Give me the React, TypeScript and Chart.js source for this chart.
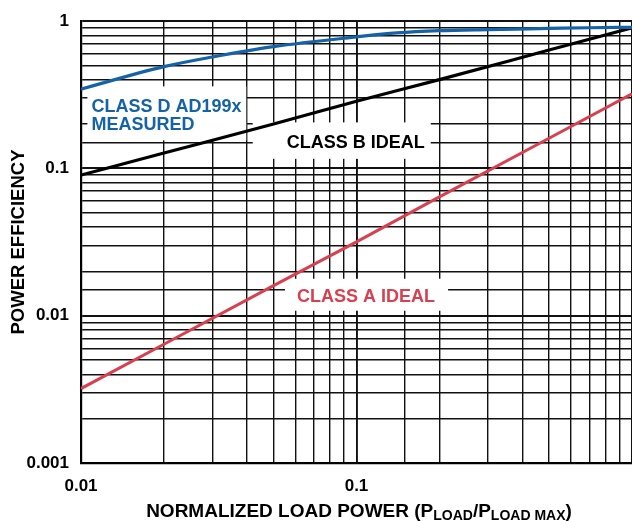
import React, { useEffect, useRef } from "react";
import { Chart, registerables } from "chart.js";

Chart.register(...registerables);

const classDX = [0.01, 0.02, 0.03, 0.05, 0.1, 0.14, 0.2, 0.3, 0.5, 0.7, 1];
const classDY = [0.345, 0.49, 0.57, 0.67, 0.78, 0.83, 0.86, 0.875, 0.89, 0.9, 0.906];
const classBX = [0.01, 0.02, 0.05, 0.1, 0.2, 0.5, 1];
const classBY = [0.09, 0.127, 0.2, 0.285, 0.4, 0.635, 0.9];
const classAX = [0.01, 0.02, 0.05, 0.1, 0.2, 0.5, 1];
const classAY = [0.0032, 0.0064, 0.016, 0.0317, 0.064, 0.16, 0.32];

const xTickLabels: Record<string, string> = { "-2": "0.01", "-1": "0.1" };
const yTickLabels: Record<string, string> = { "-3": "0.001", "-2": "0.01", "-1": "0.1", "0": "1" };

const seriesNames = ["CLASS D AD199x", "CLASS B IDEAL", "CLASS A IDEAL"];
const BLUE = "#1462a8";
const RED = "#d8404f";
const FONT = "'Liberation Sans', Arial, Helvetica, sans-serif";

const isDecade = (v: number) => {
  const l = Math.log10(v);
  return Math.abs(l - Math.round(l)) < 1e-6;
};

const labelPlugin = {
  id: "labelBoxes",
  beforeDatasetsDraw(chart: any) {
    const ctx = chart.ctx;
    const xs = chart.scales.x;
    const ys = chart.scales.y;
    ctx.save();
    const box = (x0: number, x1: number, y0: number, y1: number) => {
      const px0 = xs.getPixelForValue(x0);
      const px1 = xs.getPixelForValue(x1);
      const py0 = ys.getPixelForValue(y0);
      const py1 = ys.getPixelForValue(y1);
      ctx.fillStyle = "#ffffff";
      ctx.fillRect(px0, py0, px1 - px0, py1 - py0);
      return { px0, py0 };
    };
    ctx.font = `bold 18px ${FONT}`;
    ctx.textBaseline = "alphabetic";
    ctx.textAlign = "left";
    // class D
    const d = box(0.01055, 0.0398, 0.36, 0.155);
    ctx.fillStyle = BLUE;
    ctx.fillText(seriesNames[0], d.px0 + 4, d.py0 + 26);
    ctx.fillText("MEASURED", d.px0 + 4, d.py0 + 44);
    // class B
    const b = box(0.042, 0.186, 0.205, 0.116);
    ctx.fillStyle = "#000000";
    ctx.fillText(seriesNames[1], b.px0 + 34, b.py0 + 26);
    // class A
    const a = box(0.055, 0.215, 0.0178, 0.0108);
    ctx.fillStyle = RED;
    ctx.fillText(seriesNames[2], a.px0 + 12, a.py0 + 23);
    ctx.restore();
  },
  afterDraw(chart: any) {
    const ctx = chart.ctx;
    const area = chart.chartArea;
    ctx.save();
    ctx.fillStyle = "#000";
    // y title
    ctx.save();
    ctx.font = `bold 18.5px ${FONT}`;
    ctx.translate(24, (area.top + area.bottom) / 2);
    ctx.rotate(-Math.PI / 2);
    ctx.textAlign = "center";
    ctx.textBaseline = "alphabetic";
    ctx.fillText("POWER EFFICIENCY", 0, 0);
    ctx.restore();
    // x title with subscripts
    const parts: [string, boolean][] = [
      ["NORMALIZED LOAD POWER (P", false],
      ["LOAD", true],
      ["/P", false],
      ["LOAD MAX", true],
      [")", false],
    ];
    const mainFont = `bold 19px ${FONT}`;
    const subFont = `bold 14px ${FONT}`;
    let total = 0;
    for (const [t, s] of parts) {
      ctx.font = s ? subFont : mainFont;
      total += ctx.measureText(t).width;
    }
    let x = 359 - total / 2;
    const base = 517;
    ctx.textAlign = "left";
    for (const [t, s] of parts) {
      ctx.font = s ? subFont : mainFont;
      ctx.fillText(t, x, s ? base + 3 : base);
      x += ctx.measureText(t).width;
    }
    ctx.restore();
  },
};

export default function App() {
  const ref = useRef<HTMLCanvasElement>(null);
  useEffect(() => {
    if (!ref.current) return;
    const gridWidth = (c: any) => {
      const v = c.tick ? c.tick.value : 0;
      return v && isDecade(v) ? 1.9 : 1.4;
    };
    const chart = new Chart(ref.current, {
      type: "line",
      data: {
        datasets: [
          {
            label: seriesNames[0],
            data: classDX.map((x, i) => ({ x, y: classDY[i] })),
            borderColor: BLUE,
            borderWidth: 3.2,
            pointRadius: 0,
            cubicInterpolationMode: "monotone",
          },
          {
            label: seriesNames[1],
            data: classBX.map((x, i) => ({ x, y: classBY[i] })),
            borderColor: "#000000",
            borderWidth: 3.2,
            pointRadius: 0,
            cubicInterpolationMode: "monotone",
          },
          {
            label: seriesNames[2],
            data: classAX.map((x, i) => ({ x, y: classAY[i] })),
            borderColor: RED,
            borderWidth: 3,
            pointRadius: 0,
          },
        ],
      },
      options: {
        responsive: false,
        animation: false,
        devicePixelRatio: 1,
        layout: { padding: { top: 21, right: 0, left: 0, bottom: 0 } },
        plugins: { legend: { display: false }, tooltip: { enabled: false } },
        scales: {
          x: {
            type: "logarithmic",
            min: 0.01,
            max: 1,
            afterFit: (s: any) => {
              s.height = 58;
              s.paddingRight = 0;
              s.paddingLeft = 0;
            },
            border: { color: "#000", width: 2.2 },
            grid: { color: "#111", lineWidth: gridWidth, drawTicks: false },
            ticks: {
              autoSkip: false,
              maxRotation: 0,
              padding: 13,
              color: "#000",
              font: { family: FONT, size: 17, weight: "bold" },
              callback: (v: any) => {
                const n = Number(v);
                if (!isDecade(n)) return "";
                return xTickLabels[String(Math.round(Math.log10(n)))] || "";
              },
            },
          },
          y: {
            type: "logarithmic",
            min: 0.001,
            max: 1,
            afterFit: (s: any) => {
              s.width = 81;
              s.paddingTop = 0;
              s.paddingBottom = 0;
            },
            border: { color: "#000", width: 2.2 },
            grid: { color: "#111", lineWidth: gridWidth, drawTicks: false },
            ticks: {
              autoSkip: false,
              padding: 12,
              color: "#000",
              font: { family: FONT, size: 17, weight: "bold" },
              callback: (v: any) => {
                const n = Number(v);
                if (!isDecade(n)) return "";
                return yTickLabels[String(Math.round(Math.log10(n)))] || "";
              },
            },
          },
        },
      } as any,
      plugins: [labelPlugin],
    });
    return () => chart.destroy();
  }, []);
  return (
    <div style={{ position: "absolute", left: 0, top: 0, width: 632, height: 521, overflow: "hidden", background: "#fff" }}>
      <canvas ref={ref} width={632} height={521} style={{ display: "block" }} />
    </div>
  );
}
